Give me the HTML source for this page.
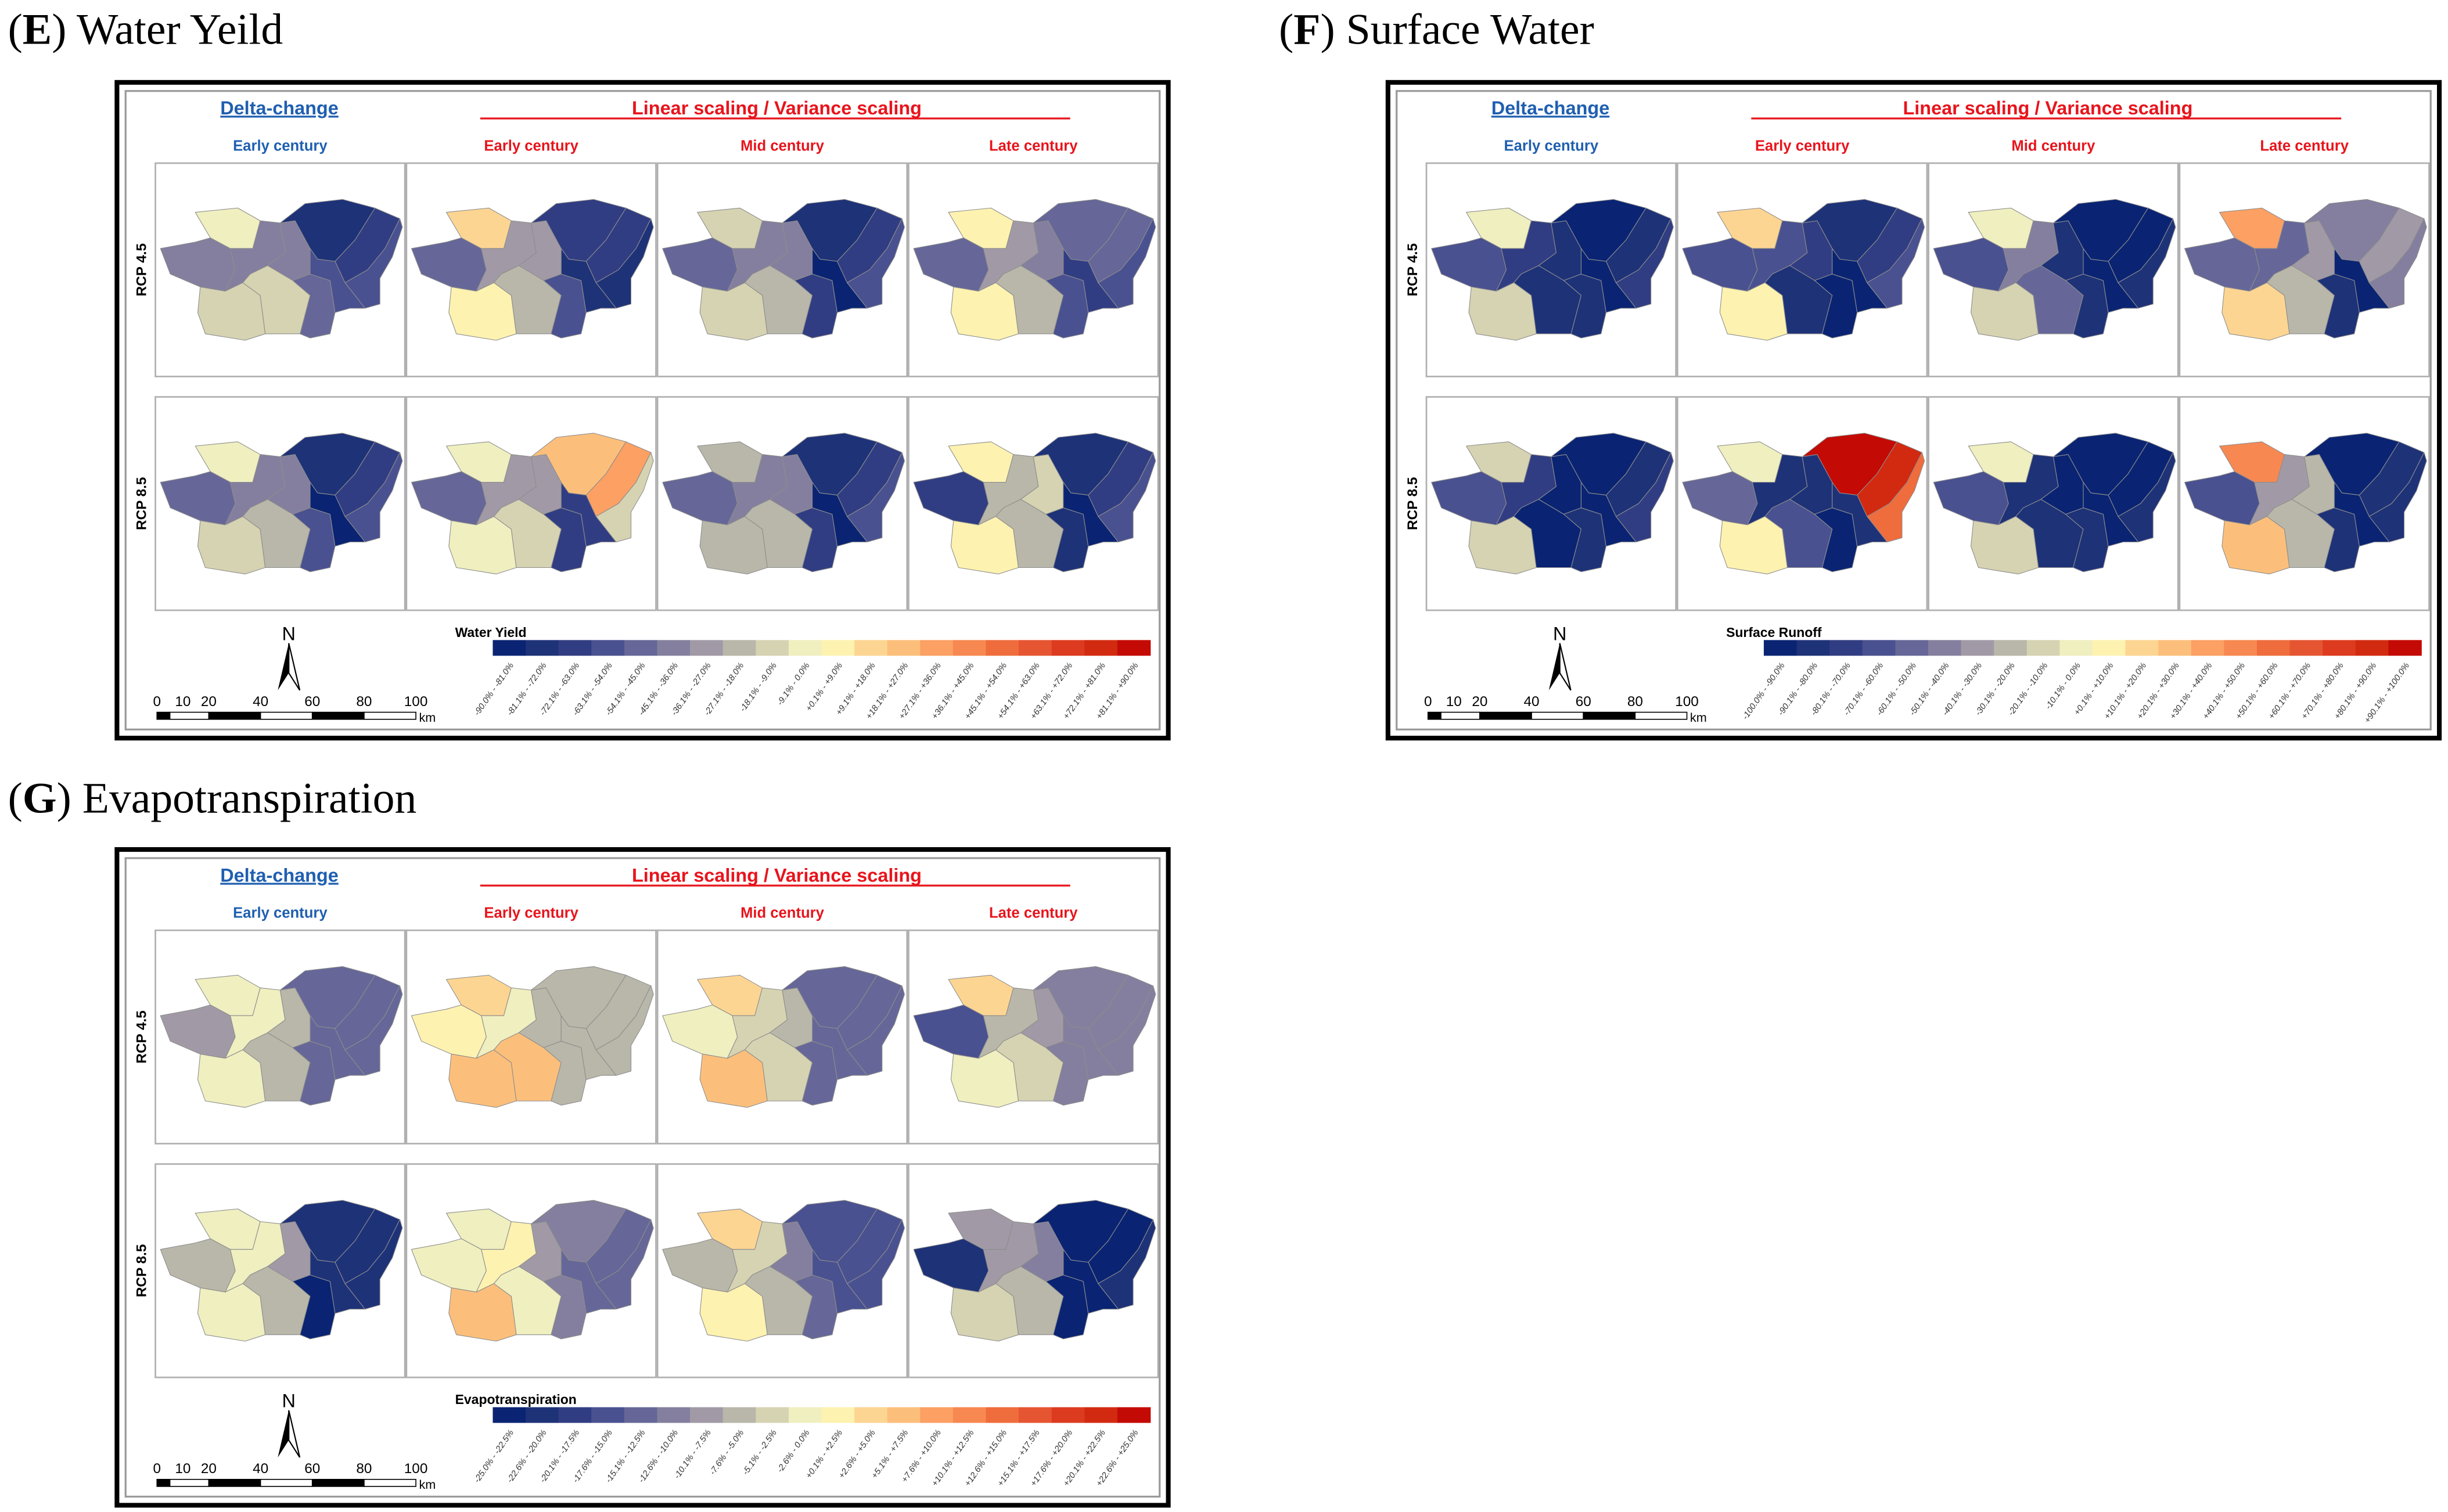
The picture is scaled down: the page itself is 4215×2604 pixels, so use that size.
<!DOCTYPE html>
<html><head><meta charset="utf-8"><style>
html,body{margin:0;padding:0;background:#fff;}
svg{display:block;}
text{font-family:"Liberation Sans",sans-serif;}
</style></head><body>
<svg id="fig" width="4215" height="2604" viewBox="0 0 1560 963.8" xmlns="http://www.w3.org/2000/svg"></svg>
<script>
// ---- data ----
const legendColors = ["#0a2473","#1e3278","#313d82","#4a5190","#666798","#847f9e","#a19aa6","#b9b7a9","#d6d3b2","#efefc0","#fdf2b0","#fdd592","#fcbf7b","#fca064","#f78851","#ef6c3d","#e65532","#dc3b20","#d22a10","#c40a05"];
const regionNames = ["A","B","C","D","E","F","G","H","I","J","K"];
const columnLabels = ["Early century","Early century","Mid century","Late century"];
const rowLabels = ["RCP 4.5","RCP 8.5"];
const scaleLabels = ["0","10","20","40","60","80","100"];
const scaleValues = [0,10,20,40,60,80,100];
const waterYieldClasses = [
 [9,5,5,5,8,8,4,1,2,3,3],[11,4,6,6,10,7,3,2,2,1,1],[8,4,5,5,8,7,2,1,2,3,0],[10,4,6,5,10,7,3,4,4,3,2],
 [9,4,5,5,8,7,3,1,2,3,0],[9,4,6,6,9,8,2,12,13,8,2],[7,4,5,5,7,7,2,1,2,3,0],[10,2,7,8,10,7,1,1,2,3,0]];
const surfaceClasses = [
 [9,3,2,1,8,1,1,0,1,2,0],[11,3,3,2,10,1,0,1,2,3,0],[9,3,5,1,8,4,1,0,0,1,0],[13,4,4,6,11,7,1,5,6,5,0],
 [8,3,2,0,8,0,1,0,1,2,0],[9,4,1,1,10,3,0,19,18,15,1],[9,3,1,0,8,1,1,0,0,1,0],[14,3,6,7,12,7,1,0,1,1,0]];
const etClasses = [
 [9,6,9,7,9,7,4,4,4,4,4],[11,10,9,7,12,12,7,7,7,7,7],[11,9,8,7,12,8,4,4,4,4,4],[11,3,7,6,9,8,5,5,5,5,5],
 [9,7,9,6,9,7,0,1,1,1,1],[9,9,10,6,12,9,5,5,4,4,4],[11,7,8,5,10,7,4,3,3,3,3],[6,1,6,5,8,7,0,0,0,1,0]];
const wyBreaks = [-90,-81,-72,-63,-54,-45,-36,-27,-18,-9,0,9,18,27,36,45,54,63,72,81,90];
const srBreaks = [-100,-90,-80,-70,-60,-50,-40,-30,-20,-10,0,10,20,30,40,50,60,70,80,90,100];
const etBreaks = [-25,-22.5,-20,-17.5,-15,-12.5,-10,-7.5,-5,-2.5,0,2.5,5,7.5,10,12.5,15,17.5,20,22.5,25];

// subbasin geometry (fractions of map cell), shared vertices
const V = {
 p1:[0.16,0.23],p2:[0.33,0.21],p3:[0.42,0.27],p4:[0.39,0.40],p5:[0.30,0.40],p6:[0.22,0.35],
 b1:[0.02,0.40],b2:[0.16,0.37],b3:[0.06,0.52],
 q1:[0.32,0.50],q2:[0.28,0.60],q3:[0.18,0.58],
 c1:[0.50,0.28],c2:[0.52,0.42],c3:[0.45,0.48],c4:[0.38,0.52],
 d1:[0.56,0.27],d2:[0.62,0.40],d3:[0.62,0.52],d4:[0.55,0.55],
 e1:[0.35,0.56],e2:[0.42,0.62],e3:[0.44,0.80],e4:[0.36,0.83],e5:[0.20,0.80],e6:[0.17,0.70],
 f1:[0.62,0.62],f2:[0.58,0.80],
 g1:[0.70,0.55],g2:[0.72,0.70],g3:[0.70,0.80],g4:[0.62,0.82],
 h0:[0.60,0.19],h5:[0.75,0.17],h1:[0.88,0.21],h2:[0.80,0.36],h3:[0.72,0.46],h4:[0.65,0.45],
 i1:[0.98,0.26],i2:[0.92,0.40],i3:[0.85,0.50],i4:[0.76,0.56],
 j1:[0.99,0.30],j2:[0.95,0.44],j3:[0.90,0.54],j4:[0.90,0.66],j5:[0.84,0.68],j6:[0.78,0.68]
};
const regions = {
 A:["p1","p2","p3","p4","p5","p6"],
 B:["b1","b2","p6","p5","q1","q2","q3","b3"],
 C:["p5","p4","p3","c1","c2","c3","c4","e1","q2","q1"],
 D:["c1","d1","d2","d3","d4","c3","c2"],
 E:["q3","q2","e1","e2","e3","e4","e5","e6"],
 F:["e1","c4","c3","d4","f1","f2","e3","e2"],
 G:["d4","d3","g1","g2","g3","g4","f2","f1"],
 H:["c1","h0","h5","h1","h2","h3","h4","d2","d1"],
 I:["h1","i1","i2","i3","i4","h3","h2"],
 J:["i1","j1","j2","j3","j4","j5","i4","i3","i2"],
 K:["d2","h4","h3","i4","j5","j6","g2","g1","d3"]
};

const NS="http://www.w3.org/2000/svg";
const svg=document.getElementById('fig');
function mk(tag,attrs,parent,txt){const e=document.createElementNS(NS,tag);for(const k in attrs)e.setAttribute(k,attrs[k]);if(txt!==undefined)e.textContent=txt;(parent||svg).appendChild(e);return e;}
function fmt(v){return (v>0?"+":"")+v.toFixed(1)+"%";}
function legendText(breaks,i){
  let a=breaks[i]; if(i>0){a = breaks[i]<0 ? breaks[i]-0.1 : breaks[i]+0.1;}
  return fmt(a)+" - "+fmt(breaks[i+1]);
}

function panel(ox,oy,tx,ty,title,letter,classes,legendTitle,breaks,key){
  const t=mk('text',{x:tx,y:ty,'font-size':28});
  
  t.style.fontFamily='"Liberation Serif",serif';
  mk('tspan',{},t,'(');mk('tspan',{'font-weight':'bold'},t,letter);mk('tspan',{},t,') '+title);
  const g=mk('g',{transform:`translate(${ox},${oy})`});
  
  mk('rect',{x:1.5,y:1.5,width:670,height:418,fill:'#fff',stroke:'#000','stroke-width':3},g);
  mk('rect',{x:7,y:7,width:659,height:407,fill:'none',stroke:'#9a9a9a','stroke-width':1.2},g);
  const dc=mk('text',{x:105,y:22,'font-size':12,'font-weight':'bold',fill:'#1f5fb0','text-anchor':'middle','text-decoration':'underline'},g,'Delta-change');
  
  const ls=mk('text',{x:422,y:22,'font-size':12,'font-weight':'bold',fill:'#e8141c','text-anchor':'middle'},g,'Linear scaling  /  Variance scaling');
  
  mk('line',{x1:233,y1:24.5,x2:609,y2:24.5,stroke:'#e8141c','stroke-width':1.2},g);
  const cols=[26,186,346,506], rows=[53,202];
  columnLabels.forEach((c,i)=>{
    const e=mk('text',{x:cols[i]+79.5,y:45,'font-size':9.5,'font-weight':'bold',fill:i===0?'#1f5fb0':'#e8141c','text-anchor':'middle'},g,c);
    
  });
  rowLabels.forEach((r,i)=>{
    const e=mk('text',{x:0,y:0,'font-size':9,'font-weight':'bold','text-anchor':'middle',transform:`translate(20,${rows[i]+68}) rotate(-90)`},g,r);
    
  });
  for(let r=0;r<2;r++)for(let c=0;c<4;c++){
    const cx=cols[c], cy=rows[r], cls=classes[r*4+c];
    const cell=mk('g',{},g);
    
    mk('rect',{x:cx,y:cy,width:159,height:136,fill:'#fff',stroke:'#b0b0b0','stroke-width':1},cell);
    regionNames.forEach((n,k)=>{
      const pts=regions[n].map(v=>(cx+V[v][0]*159).toFixed(1)+','+(cy+V[v][1]*136).toFixed(1));
      const pg=mk('polygon',{points:pts.join(' '),fill:legendColors[cls[k]],stroke:'#8d8d8d','stroke-width':0.4,'stroke-linejoin':'round'},cell);
      
    });
  }
  const na=mk('g',{},g);
  mk('text',{x:111,y:357,'font-size':12,'text-anchor':'middle'},na,'N');
  mk('polygon',{points:'111,359 104,389 111,378',fill:'#000'},na);
  mk('polygon',{points:'111,359 118,389 111,378',fill:'#fff',stroke:'#000','stroke-width':0.8},na);
  const sb=mk('g',{},g);
  const sx=v=>27+v*1.65;
  scaleLabels.forEach((s,i)=>mk('text',{x:sx(scaleValues[i]),y:399,'font-size':9,'text-anchor':'middle'},sb,s));
  const segs=[0,5,20,40,60,80,100];
  for(let i=0;i<segs.length-1;i++)mk('rect',{x:sx(segs[i]),y:403,width:sx(segs[i+1])-sx(segs[i]),height:4.5,fill:i%2===0?'#000':'#fff',stroke:'#000','stroke-width':0.6},sb);
  mk('text',{x:sx(100)+2,y:409,'font-size':8},sb,'km');
  const lg=mk('g',{},g);
  mk('text',{x:217,y:355,'font-size':8.5,'font-weight':'bold'},lg,legendTitle);
  const lx=241, lw=419/legendColors.length;
  legendColors.forEach((col,i)=>{
    const r=mk('rect',{x:lx+i*lw,y:357,width:lw+0.3,height:10,fill:col},lg);
    
    const px=lx+i*lw+lw/2+3;
    const t=mk('text',{x:0,y:0,'font-size':5.5,'font-style':'italic','text-anchor':'end',fill:'#333',transform:`translate(${px},373) rotate(-55)`},lg,legendText(breaks,i));
    
  });
}
panel(73,51,5,28,'Water Yeild','E',waterYieldClasses,'Water Yield',wyBreaks,'water-yield');
panel(883,51,815,28,'Surface Water','F',surfaceClasses,'Surface Runoff',srBreaks,'surface-water');
panel(73,540,5,518,'Evapotranspiration','G',etClasses,'Evapotranspiration',etBreaks,'evapotranspiration');
</script>
</body></html>
